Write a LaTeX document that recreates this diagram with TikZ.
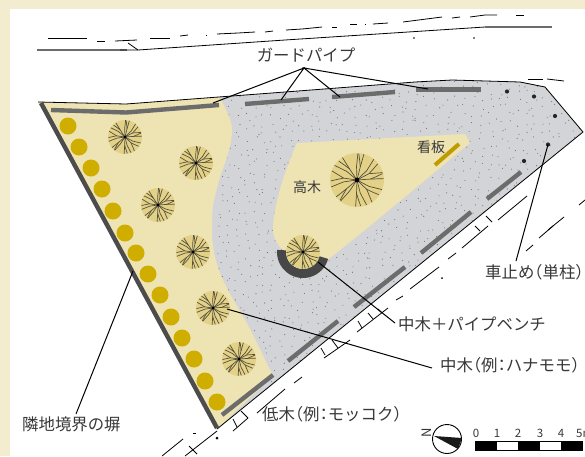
\documentclass[tikz,border=0pt]{standalone}
\usepackage{fontspec}
\setmainfont{Noto Sans CJK JP}
\definecolor{frame}{HTML}{F3ECCE}
\definecolor{bei}{HTML}{EEE3B2}
\definecolor{pav}{HTML}{D3D4D7}
\definecolor{crown}{HTML}{E3D188}
\definecolor{twig}{HTML}{55503A}
\definecolor{pipe}{HTML}{6C6C6C}
\definecolor{gold}{HTML}{CFAE00}
\definecolor{signc}{HTML}{BE9C00}
\newcommand{\lp}{\hspace{-.5em}（}
\newcommand{\rp}{）\hspace{-.5em}}
\newcommand{\cln}{\hspace{-.25em}：\hspace{-.25em}}
\tikzset{
  thinline/.style={black,line width=0.8pt},
  leader/.style={black,line width=1pt},
  pipeline/.style={pipe,line width=4.4pt},
  shrub/.style={fill=gold,draw=none},
  stopdot/.style={fill=black!85,draw=none},
  lab/.style={font=\fontsize{16.4}{17}\selectfont,inner sep=0pt,text=black!78},
}
\newcommand{\treeart}[3]{%
  \fill[crown] (#1,#2) circle[radius=#3];
  \begin{scope}[shift={(#1,#2)},scale=#3]
    \foreach \a [count=\i] in {0,24,...,336}{
      \pgfmathsetmacro{\b}{\a+(mod(\i,2)==0?4:-4)}
      \pgfmathsetmacro{\c}{\a+(mod(\i,2)==0?10:-10)}
      \pgfmathsetmacro{\d}{\a+(mod(\i,3)==0?8:-3)}
      \draw[twig,line width=0.7pt] (0,0) -- (\b:0.5) -- (\d:0.99);
      \ifodd\i
        \draw[twig,line width=0.7pt] (\b:0.5) -- (\c:0.72) -- (\a-14:0.97);
      \fi
    }
    \fill[black] (0,0) circle[radius=0.09];
  \end{scope}}
\begin{document}
\begin{tikzpicture}[x=1pt,y=-1pt]
\clip (0,0) rectangle (585,456);
\fill[white] (0,0) rectangle (585,456);
\fill[frame] (0,0) rectangle (585,9);
\fill[frame] (0,0) rectangle (10,456);

% road lines
\foreach \p in {
 {(48,38)--(87,38)},{(97,41)--(105,41)},{(115,41)--(137,40)},{(150,38)--(170,38)},
 {(180,36)--(188,35)},{(206,35)--(207,35)},{(217,34)--(238,33)--(255,32)},{(265,32)--(273,31)},
 {(286,30)--(302,29)--(322,27)},{(332,27)--(337,27)},{(350,24)--(357,24)},{(365,24)--(366,24)},
 {(373,24)--(388,23)},{(403,22)--(442,17)},{(452,18)--(460,17)},{(470,17)--(485,15)--(497,15)},
 {(516,15)--(524,15)},{(528,79)--(543,79)},{(547,79)--(564,81)},
 {(498,220)--(527,196)},{(548,230)--(564,217)},{(579,205)--(585,200)},{(539,238)--(553,226)},
 {(526,251)--(533,245)},{(462,248)--(488,226)},{(448,259)--(456,253)},{(410,289)--(439,267)},
 {(396,300)--(403,296)},{(357,332)--(388,308)},{(324,358)--(350,340)},{(294,383)--(302,377)},
 {(257,413)--(285,389)},{(233,431)--(248,418)},{(162,456)--(183,439)},{(185,456)--(217,431)},
 {(241,411)--(248,418)},{(233,419)--(237,427)},{(321,348)--(325,355)},{(332,340)--(338,348)},
 {(358,321)--(362,328)},{(368,313)--(373,319)},{(378,309)--(382,313)},
 {(486,216)--(492,222)},{(475,226)--(480,231)},{(189,446)--(197,454)},{(193,433)--(196,433)}
 }{\draw[thinline] \p;}
\draw[pipe,line width=1.3pt] (37,50) -- (120,50);
\draw[black!70,line width=1.3pt] (120,50) -- (127,50);
\draw[thinline] (127,50) -- (138,50) -- (285,40) -- (485,27);
\draw[thinline] (128,43) -- (138,50);
\draw[pipe,line width=1.3pt] (485,27) -- (552,27);
\fill[black] (414,38) circle[radius=0.8] (474,38) circle[radius=0.8] (442,278) circle[radius=1] (217,438) circle[radius=1.5];

% ground
\path[fill=pav] (38,102) -- (126,104) -- (285,92) -- (415,82) -- (452,80) -- (520,82) -- (545,87) -- (583,132) -- (217,429) -- cycle;
\begin{scope}
  \clip (38,102) -- (126,104) -- (285,92) -- (415,82) -- (452,80) -- (520,82) -- (545,87) -- (583,132) -- (217,429) -- cycle;
  \pgfmathsetseed{4217}
  \foreach \x in {216,225,...,584}{
    \foreach \y in {80,88,...,380}{
      \pgfmathsetmacro{\dx}{\x+8*rnd}
      \pgfmathsetmacro{\dy}{\y+7*rnd}
      \fill[black!55] (\dx,\dy) circle[radius=0.55];
    }
  }
\end{scope}
\fill[bei] (38,102) -- (126,104) -- (220,97)
  .. controls (226,110) and (232,120) .. (232,130)
  .. controls (232,145) and (226,160) .. (220,177)
  .. controls (215,195) and (212,205) .. (212,220)
  .. controls (211,240) and (214,258) .. (220,273)
  .. controls (228,293) and (240,310) .. (250,329)
  .. controls (258,345) and (266,362) .. (273,376)
  -- (217,429) -- cycle;
\fill[bei] (297,143) -- (465,134) -- (470,143) -- (365,230) -- (325,262) -- (285,252)
  .. controls (277,245) and (273,238) .. (273,228)
  .. controls (274,205) and (283,175) .. (297,143) -- cycle;

% outline
\draw[thinline,line join=round] (38,102) -- (126,104) -- (285,92) -- (415,82) -- (452,80) -- (520,82) -- (545,87) -- (583,132) -- (217,429);
\draw[black!70,line width=4.4pt] (41,103) -- (217,428);

% shrubs
\foreach \x/\y in {68/126,79/147,91/168,102/189,113/211,125/233,136/253,148/274,160/295,171/317,182/338,194/359,205/381,217/402}
  {\fill[shrub] (\x,\y) circle[radius=8.5];}

% pipes
\draw[pipeline] (51,110) -- (126,112.5) -- (219,105);
\draw[pipeline] (245,104) -- (309,99);
\draw[pipeline] (332,97) -- (395,92);
\draw[pipeline] (416,89.5) -- (481,89.5);
\draw[pipeline] (487,199) -- (521,172);
\draw[pipeline] (421,253) -- (471,212);
\draw[pipeline] (354,307) -- (405,267);
\draw[pipeline] (288,361) -- (338,321);
\draw[pipeline] (222,415) -- (273,375);

% bench and trees
\draw[black!72,line width=9pt] plot[smooth,domain=15:185,samples=30] ({303+21.5*cos(\x)},{252+21.5*sin(\x)});
\treeart{125}{137}{17}
\treeart{196}{163}{17}
\treeart{158}{205}{17}
\treeart{193}{252}{17}
\treeart{213}{308}{17}
\treeart{239}{359}{17}
\treeart{357}{180}{27}
\treeart{303}{252}{17}

% sign and stops
\draw[signc,line width=4pt] (435,165) -- (459,144);
\foreach \x/\y in {507/91.5,534/96.5,555/116,548/144.5,524/161}
  {\fill[stopdot] (\x,\y) circle[radius=2.1];}

% labels
\node[lab] (guard) at (306,55) {ガードパイプ};
\node[lab,font=\fontsize{14}{15}\selectfont] (sign) at (431,147) {看板};
\node[lab,font=\fontsize{14}{15}\selectfont] (tall) at (307,187) {高木};
\node[lab,anchor=west] (stop) at (485,272) {車止め\lp 単柱\rp};
\node[lab,anchor=west] (bench) at (398,324) {中木＋パイプベンチ};
\node[lab,anchor=west] (mid) at (440,365) {中木\lp 例\cln ハナモモ\rp};
\node[lab,anchor=west] (low) at (262,414) {低木\lp 例\cln モッコク\rp};
\node[lab,anchor=west] (wall) at (22,424) {隣地境界の塀};

% leaders
\coordinate (apex) at (304,68);
\coordinate (p1) at (213,103);
\coordinate (p2) at (281,100);
\coordinate (p3) at (340,97);
\coordinate (p4) at (428,89);
\draw[leader] (p1) -- (apex) -- (p2);
\draw[leader] (p3) -- (apex) -- (p4);
\coordinate (stopend) at (548,144.5);
\coordinate (stopstart) at (516,261);
\draw[leader] (stopstart) -- (stopend);
\coordinate (benchstart) at (395,323);
\coordinate (benchend) at (318,262);
\draw[leader] (benchstart) -- (benchend);
\coordinate (midstart) at (432,368);
\coordinate (midend) at (227,309);
\draw[leader] (midstart) -- (midend);
\coordinate (wallstart) at (76,414);
\coordinate (wallend) at (133,271);
\draw[leader] (wallstart) -- (wallend);

% compass
\draw[black,line width=0.9pt,fill=white] (447,439) circle[radius=14.5];
\fill[black!90] (434,436) -- (462,438) -- (458,449) -- cycle;
\node[font=\fontsize{13}{13}\selectfont,rotate=90,inner sep=0pt,text=black!80] (north) at (427,433) {N};

% scale
\foreach \n/\x in {0/476,1/497,2/518,3/540,4/561}
  {\node[font=\fontsize{11.5}{12}\selectfont,inner sep=0pt,text=black!78] at (\x,433) {\n};}
\node[font=\fontsize{11.5}{12}\selectfont,inner sep=0pt,anchor=west,text=black!78] at (576,433) {5m};
\fill[black] (475,441) rectangle (583,451);
\fill[white] (497,442) rectangle (518,450);
\fill[white] (540,442) rectangle (561,450);
\end{tikzpicture}
\end{document}
